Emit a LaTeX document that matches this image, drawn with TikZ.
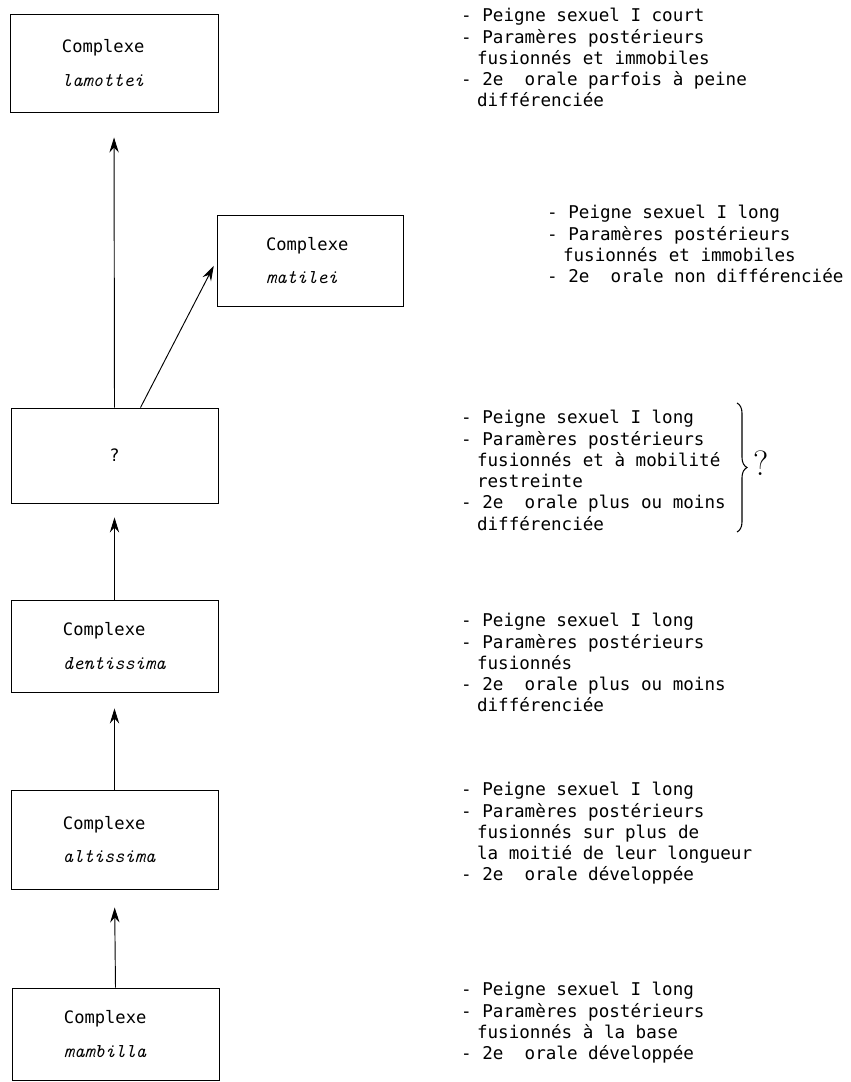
\documentclass[tikz,border=0pt]{standalone}
\usepackage{fontspec}
\usepackage{tikz}
\usetikzlibrary{arrows.meta,decorations.pathreplacing}
\newfontfamily\typefont{DejaVu Sans Mono}
\newcommand\namefont{\fontsize{16.7}{29}\selectfont\ttfamily\itshape}
\newcommand\indt{\hspace*{0.9em}}

\begin{document}
\begin{tikzpicture}[x=0.03cm,y=-0.03cm,
    cbox/.style={draw,line width=0.8pt,inner sep=0pt,align=left,font=\fontsize{14.6}{29}\selectfont\typefont},
    desc/.style={anchor=north west,inner sep=0pt,align=left,font=\fontsize{15}{18.2}\selectfont\typefont},
    up/.style={-{Stealth[length=0.45cm,width=0.28cm,inset=0.15cm]},line width=0.8pt}]
\useasboundingbox (0,0) rectangle (851,1082);
\node[cbox,minimum width=6.24cm,minimum height=2.94cm,text width=3.12cm] (lam) at (114,63) {Complexe\\{\namefont lamottei}}; % lamottei
\node[cbox,minimum width=5.58cm,minimum height=2.73cm,text width=2.64cm] (mat) at (310,260.5) {Complexe\\{\namefont matilei}}; % matilei
\node[cbox,minimum width=6.21cm,minimum height=2.85cm] (q) at (114.5,455.5) {?}; % unknown
\node[cbox,minimum width=6.21cm,minimum height=2.76cm,text width=3.09cm] (den) at (114.5,646) {Complexe\\{\namefont dentissima}}; % dentissima
\node[cbox,minimum width=6.21cm,minimum height=2.97cm,text width=3.09cm] (alt) at (114.5,839.5) {Complexe\\{\namefont altissima}}; % altissima
\node[cbox,minimum width=6.21cm,minimum height=2.76cm,text width=3.09cm] (mam) at (115.5,1034) {Complexe\\{\namefont mambilla}}; % mambilla
\draw[up,shorten >=0.75cm] (q.north) -- (lam.south); % q -> lamottei
\draw[up,shorten >=0.18cm] ([xshift=0.78cm]q.north) -- (mat.west); % q -> matilei
\draw[up,shorten >=0.42cm] (den.north) -- (q.south); % dentissima -> q
\draw[up,shorten >=0.48cm] (alt.north) -- (den.south); % altissima -> dentissima
\draw[up,shorten >=0.54cm] (mam.north) -- (alt.south); % mambilla -> altissima
\node[desc] (dlam) at (461,8) {- Peigne sexuel I court\\- Paramères postérieurs\\\indt fusionnés et immobiles\\- 2e\phantom{x} orale parfois à peine\\\indt différenciée}; % lamottei
\node[desc] (dmat) at (547,205) {- Peigne sexuel I long\\- Paramères postérieurs\\\indt fusionnés et immobiles\\- 2e\phantom{x} orale non différenciée}; % matilei
\node[desc] (dq) at (461,410) {- Peigne sexuel I long\\- Paramères postérieurs\\\indt fusionnés et à mobilité\\\indt restreinte\\- 2e\phantom{x} orale plus ou moins\\\indt différenciée}; % unknown
\node[desc] (dden) at (461,613) {- Peigne sexuel I long\\- Paramères postérieurs\\\indt fusionnés\\- 2e\phantom{x} orale plus ou moins\\\indt différenciée}; % dentissima
\node[desc] (dalt) at (461,782) {- Peigne sexuel I long\\- Paramères postérieurs\\\indt fusionnés sur plus de\\\indt la moitié de leur longueur\\- 2e\phantom{x} orale développée}; % altissima
\node[desc] (dmam) at (461,982) {- Peigne sexuel I long\\- Paramères postérieurs\\\indt fusionnés à la base\\- 2e\phantom{x} orale développée}; % mambilla
\coordinate (btop) at (737,403); % brace
\coordinate (bbot) at (737,532); % brace
\draw[decorate,decoration={brace,amplitude=0.3cm},line width=0.9pt] (btop) -- (bbot); % brace
\node[font=\fontsize{30}{32}\selectfont] (bq) at (761,463) {?}; % brace
\end{tikzpicture}
\end{document}
